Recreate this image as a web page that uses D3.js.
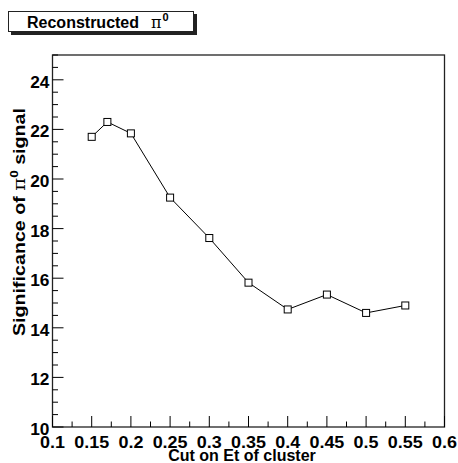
<!DOCTYPE html>
<html lang="en">
<head>
<meta charset="utf-8">
<style>
  body { margin: 0; background: white; }
  svg { font-family: 'Liberation Sans', Arial, sans-serif; }
  .lbl { font-weight: bold; fill: black; }
</style>
</head>
<body>
<svg width="458" height="463"></svg>
<script src="https://d3js.org/d3.v7.min.js"></script>
<script>
// Et cut values and pi0 signal significance
const etCut = [0.15, 0.17, 0.2, 0.25, 0.3, 0.35, 0.4, 0.45, 0.5, 0.55]
const significance = [21.7, 22.3, 21.84, 19.25, 17.62, 15.82, 14.74, 15.34, 14.6, 14.9]
const xTicks = [0.1, 0.15, 0.2, 0.25, 0.3, 0.35, 0.4, 0.45, 0.5, 0.55, 0.6]
const yTicks = [10, 12, 14, 16, 18, 20, 22, 24]

const width = 458, height = 463
const margin = { top: 55, right: 13.5, bottom: 36, left: 52.5 }

const svg = d3.select("svg")

const x = d3.scaleLinear().domain([0.1, 0.6]).range([margin.left, width - margin.right])
const y = d3.scaleLinear().domain([10, 25]).range([height - margin.bottom, margin.top])

// frame
svg.append("rect")
  .attr("x", margin.left).attr("y", margin.top)
  .attr("width", x(0.6) - x(0.1)).attr("height", y(10) - y(25))
  .attr("fill", "none").attr("stroke", "#222").attr("stroke-width", 1.3)

// x ticks (major every 0.05, minor in between), pointing inward
const xMinor = d3.range(0.125, 0.6, 0.05)
const gx = svg.append("g")
gx.selectAll("line.maj").data(xTicks).join("line")
  .attr("x1", d => x(d)).attr("x2", d => x(d))
  .attr("y1", y(10)).attr("y2", y(10) - 11)
  .attr("stroke", "black")
gx.selectAll("line.min").data(xMinor).join("line")
  .attr("x1", d => x(d)).attr("x2", d => x(d))
  .attr("y1", y(10)).attr("y2", y(10) - 5.5)
  .attr("stroke", "black")
gx.selectAll("text").data(xTicks).join("text")
  .attr("class", "lbl")
  .attr("x", d => x(d)).attr("y", 448)
  .attr("text-anchor", "middle")
  .attr("font-size", 16)
  .text(d => d3.format("")(d))
  .each(function() {
    // the reference glyphs are a bit wider than Liberation's
    const w = this.getComputedTextLength()
    d3.select(this).attr("textLength", w * 1.12).attr("lengthAdjust", "spacingAndGlyphs")
  })

// y ticks (major every 2, minor every 0.5)
const yMinor = d3.range(10, 25.01, 0.5).filter(v => v % 2 !== 0)
const gy = svg.append("g")
gy.selectAll("line.maj").data(yTicks).join("line")
  .attr("x1", x(0.1)).attr("x2", x(0.1) + 11)
  .attr("y1", d => y(d)).attr("y2", d => y(d))
  .attr("stroke", "black")
gy.selectAll("line.min").data(yMinor).join("line")
  .attr("x1", x(0.1)).attr("x2", x(0.1) + 5.5)
  .attr("y1", d => y(d)).attr("y2", d => y(d))
  .attr("stroke", "black")
gy.selectAll("text").data(yTicks).join("text")
  .attr("class", "lbl")
  .attr("x", 49.5).attr("y", d => y(d) + 8)
  .attr("text-anchor", "end")
  .attr("font-size", 16)
  .text(d => d)
  .each(function() {
    const w = this.getComputedTextLength()
    d3.select(this).attr("textLength", w * 1.08).attr("lengthAdjust", "spacingAndGlyphs")
  })

// line + square markers
const pts = etCut.map((d, i) => [d, significance[i]])
svg.append("path")
  .datum(pts)
  .attr("d", d3.line().x(d => x(d[0])).y(d => y(d[1])))
  .attr("fill", "none").attr("stroke", "black").attr("stroke-width", 1)
svg.selectAll("rect.pt").data(pts).join("rect")
  .attr("class", "pt")
  .attr("x", d => x(d[0]) - 3.5).attr("y", d => y(d[1]) - 3.5)
  .attr("width", 7).attr("height", 7)
  .attr("fill", "white").attr("stroke", "black").attr("stroke-width", 1)

// axis titles
svg.append("text").attr("class", "lbl")
  .attr("x", 242).attr("y", 461)
  .attr("text-anchor", "middle").attr("font-size", 16)
  .text("Cut on Et of cluster")

const yt = svg.append("text").attr("class", "lbl")
  .attr("transform", "translate(25,222) rotate(-90)")
  .attr("text-anchor", "middle").attr("font-size", 16)
  .attr("textLength", 228).attr("lengthAdjust", "spacingAndGlyphs")
yt.append("tspan").text("Significance of ")
yt.append("tspan").attr("font-family", "'DejaVu Serif', serif").attr("font-weight", "normal").text("π")
yt.append("tspan").attr("font-size", 11).attr("dy", -7).text("0")
yt.append("tspan").attr("dy", 7).text(" signal")

// title box with shadow
svg.append("rect").attr("x", 11).attr("y", 14).attr("width", 186).attr("height", 21).attr("fill", "#222")
svg.append("rect").attr("x", 8.5).attr("y", 11.5).attr("width", 185).attr("height", 20)
  .attr("fill", "white").attr("stroke", "#222").attr("stroke-width", 1)
const tt = svg.append("text").attr("class", "lbl")
  .attr("x", 27).attr("y", 28)
  .attr("font-size", 16)
tt.append("tspan").text("Reconstructed")
tt.append("tspan").attr("dx", 12).attr("font-family", "'DejaVu Serif', serif").attr("font-weight", "normal").text("π")
tt.append("tspan").attr("dx", 1).attr("font-size", 11).attr("dy", -7).text("0")
</script>
</body>
</html>
